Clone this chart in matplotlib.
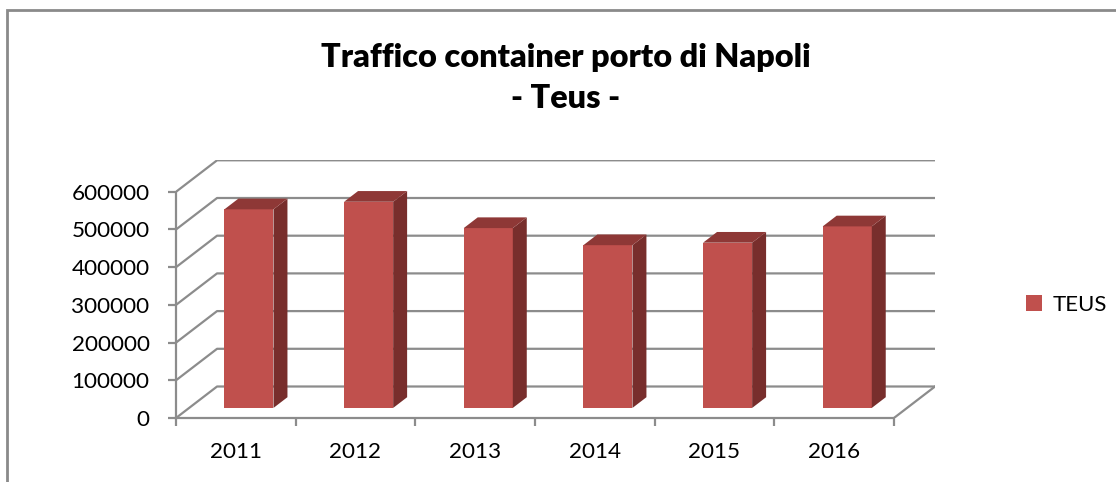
import matplotlib
matplotlib.use("Agg")
import matplotlib.pyplot as plt
from matplotlib.patches import Polygon, Rectangle
import numpy as np

# ---- data ----
years = ["2011", "2012", "2013", "2014", "2015", "2016"]
teus = [526768, 546818, 477020, 431682, 438280, 481521]
y_ticks = [0, 100000, 200000, 300000, 400000, 500000, 600000]
y_labels = ["0", "100000", "200000", "300000", "400000", "500000", "600000"]
series_name = "TEUS"
title1 = "Traffico container porto di Napoli"
title2 = "- Teus -"

# ---- style ----
FONT = "Lato"
W, H = 1116, 482
front_c = "#C0504D"
top_c = "#8E3836"
side_c = "#782E2C"
grid_c = "#8C8C8C"

fig = plt.figure(figsize=(W / 100, H / 100), dpi=100)
fig.patch.set_facecolor("white")

# chart border
fig.patches.append(Rectangle((7 / W, -0.1), 1.2, (H - 9.5) / H + 0.1, transform=fig.transFigure,
                             fill=False, edgecolor="#8A8A8A", linewidth=2.0))

# depth in data units
n = len(years)
Dx = 41 / 119.5          # category units
Dy = 31.5 / 37.7 * 1e5   # value units
ytop = 258 / 37.7 * 1e5

ax = fig.add_axes([176 / W, (H - 418) / H, (935 - 176) / W, 258 / H])
ax.set_xlim(0, n + Dx)
ax.set_ylim(0, ytop)
ax.set_facecolor("none")

# back wall gridlines + side wall diagonals
for v in y_ticks:
    ax.plot([0, Dx, n + Dx], [v, v + Dy, v + Dy], color=grid_c, lw=1.6, zorder=1,
            solid_capstyle="butt")
# floor right edge
ax.plot([n, n + Dx], [0, Dy], color=grid_c, lw=1.6, zorder=1)

# bars (pseudo 3D)
f1, f2 = 0.32, 0.66
bw = 0.41
xs = np.arange(n) + 0.5 + f1 * Dx
base = f1 * Dy
ddx = (f2 - f1) * Dx
ddy = (f2 - f1) * Dy
bars = ax.bar(xs, teus, width=bw, bottom=base, color=front_c, zorder=3, linewidth=0)
for x, v in zip(xs, teus):
    xl, xr = x - bw / 2, x + bw / 2
    top = base + v
    ax.add_patch(Polygon([(xr, base), (xr + ddx, base + ddy), (xr + ddx, top + ddy), (xr, top)],
                         closed=True, facecolor=side_c, edgecolor="none", zorder=3))
    ax.add_patch(Polygon([(xl, top), (xr, top), (xr + ddx, top + ddy), (xl + ddx, top + ddy)],
                         closed=True, facecolor=top_c, edgecolor="none", zorder=3))

# spines / axes
for s in ["top", "right"]:
    ax.spines[s].set_visible(False)
for s in ["left", "bottom"]:
    ax.spines[s].set_color(grid_c)
    ax.spines[s].set_linewidth(1.6)
    ax.spines[s].set_zorder(2)
ax.spines["left"].set_bounds(0, 600000)
ax.spines["bottom"].set_bounds(0, n)

ax.set_yticks(y_ticks)
ax.set_yticklabels(y_labels, fontfamily=FONT, fontsize=16.2)
ax.tick_params(axis="y", direction="out", length=6, width=1.6, color=grid_c, pad=13)

ax.set_xticks(np.arange(n + 1))
ax.set_xticklabels([])
ax.set_xticks(np.arange(n) + 0.5, minor=True)
ax.set_xticklabels(years, minor=True, fontfamily=FONT, fontsize=16.2)
ax.tick_params(axis="x", which="major", direction="out", length=6, width=1.6, color=grid_c)
ax.tick_params(axis="x", which="minor", length=0, pad=17)

# title
fig.text(566 / W, 1 - 67 / H, title1, ha="center", va="baseline", fontfamily=FONT,
         fontweight="heavy", fontsize=23.3)
fig.text(566 / W, 1 - 108 / H, title2, ha="center", va="baseline", fontfamily=FONT,
         fontweight="heavy", fontsize=23.3)

# legend
leg = fig.legend(handles=[bars], labels=[series_name], loc="center left",
                 bbox_to_anchor=(1026 / W, 1 - 305 / H), frameon=False,
                 prop={"family": FONT, "size": 16}, handlelength=0.7, handleheight=0.7,
                 handletextpad=0.5, borderaxespad=0, borderpad=0)

fig.savefig("out.png", dpi=100)
